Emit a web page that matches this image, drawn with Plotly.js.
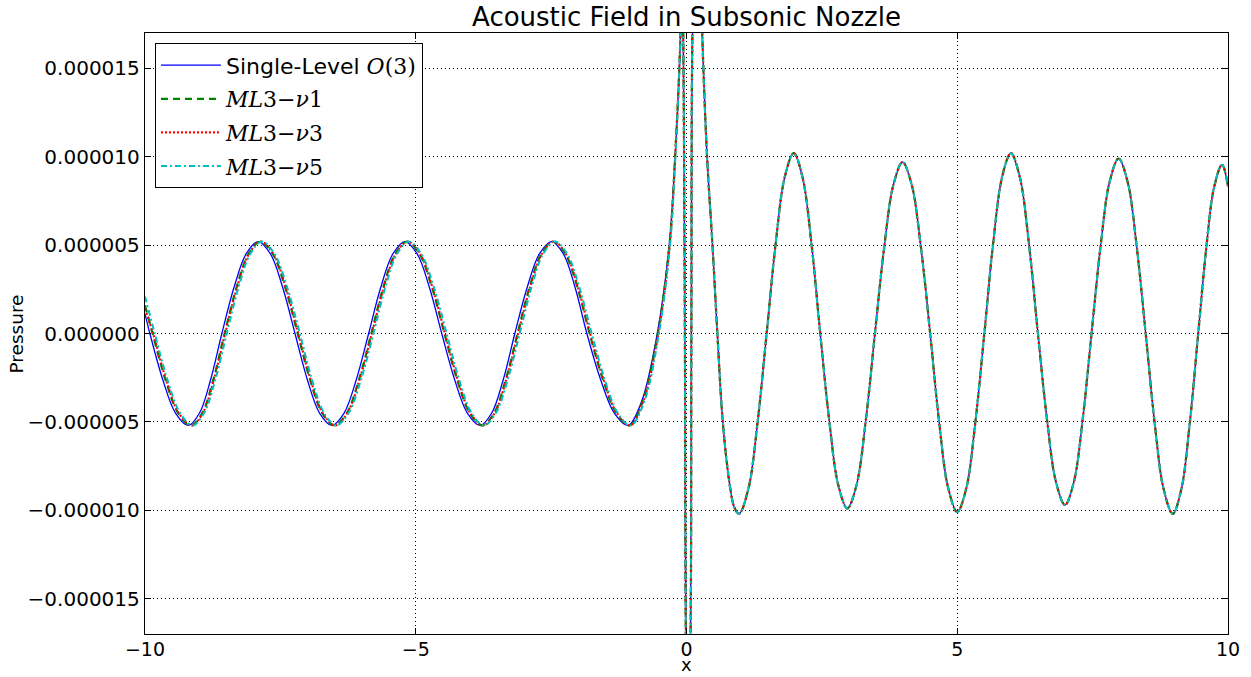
<!DOCTYPE html>
<html>
<head>
<meta charset="utf-8">
<script src="https://cdn.plot.ly/plotly-3.0.1.min.js"></script>
<style>html,body{margin:0;padding:0;background:#fff;}#chart{width:1251px;height:677px;}</style>
</head>
<body>
<div id="chart"></div>
<script>
// Upstream (subsonic) part, one array pair per series
var xLeftSingle = [-10, -9.91, -9.673, -9.437, -9.20, -8.993, -8.787, -8.58, -8.357, -8.133, -7.91, -7.683, -7.457, -7.23,
  -7.003, -6.777, -6.55, -6.323, -6.097, -5.87, -5.647, -5.423, -5.20, -4.973, -4.747, -4.52,
  -4.283, -4.047, -3.81, -3.597, -3.383, -3.17, -2.943, -2.717, -2.49, -2.273, -2.057, -1.84,
  -1.587, -1.333, -1.08, -0.83, -0.54, -0.32, -0.21];
var pLeftSingle = [1.1e-6, 0, -2.6e-6, -4.5e-6, -5.2e-6, -4.5e-6, -2.6e-6, 0, 2.6e-6, 4.5e-6, 5.2e-6, 4.5e-6, 2.6e-6, 0,
  -2.6e-6, -4.5e-6, -5.2e-6, -4.5e-6, -2.6e-6, 0, 2.6e-6, 4.5e-6, 5.2e-6, 4.5e-6, 2.6e-6, 0,
  -2.6e-6, -4.5e-6, -5.2e-6, -4.5e-6, -2.6e-6, 0, 2.6e-6, 4.5e-6, 5.2e-6, 4.5e-6, 2.6e-6, 0,
  -2.6e-6, -4.5e-6, -5.2e-6, -3.85e-6, 0, 5.0e-6, 1.0e-5];

var xLeftNu1 = [-10, -9.86, -9.623, -9.387, -9.15, -8.943, -8.737, -8.53, -8.31, -8.09, -7.87, -7.64, -7.41, -7.18,
  -6.953, -6.727, -6.50, -6.273, -6.047, -5.82, -5.60, -5.38, -5.16, -4.93, -4.70, -4.47,
  -4.237, -4.003, -3.77, -3.553, -3.337, -3.12, -2.90, -2.68, -2.46, -2.237, -2.013, -1.79,
  -1.543, -1.297, -1.05, -0.81, -0.53, -0.315, -0.21];
var pLeftNu1 = [1.6e-6, 0, -2.6e-6, -4.5e-6, -5.2e-6, -4.5e-6, -2.6e-6, 0, 2.6e-6, 4.5e-6, 5.2e-6, 4.5e-6, 2.6e-6, 0,
  -2.6e-6, -4.5e-6, -5.2e-6, -4.5e-6, -2.6e-6, 0, 2.6e-6, 4.5e-6, 5.2e-6, 4.5e-6, 2.6e-6, 0,
  -2.6e-6, -4.5e-6, -5.2e-6, -4.5e-6, -2.6e-6, 0, 2.6e-6, 4.5e-6, 5.2e-6, 4.5e-6, 2.6e-6, 0,
  -2.6e-6, -4.5e-6, -5.2e-6, -3.85e-6, 0, 5.0e-6, 1.0e-5];

var xLeftNu3 = [-10, -9.85, -9.613, -9.377, -9.14, -8.933, -8.727, -8.52, -8.30, -8.08, -7.86, -7.63, -7.40, -7.17,
  -6.943, -6.717, -6.49, -6.263, -6.037, -5.81, -5.59, -5.37, -5.15, -4.92, -4.69, -4.46,
  -4.227, -3.993, -3.76, -3.543, -3.327, -3.11, -2.89, -2.67, -2.45, -2.227, -2.003, -1.78,
  -1.533, -1.287, -1.04, -0.80, -0.52, -0.31, -0.21];
var pLeftNu3 = [1.4e-6, 0, -2.6e-6, -4.5e-6, -5.2e-6, -4.5e-6, -2.6e-6, 0, 2.6e-6, 4.5e-6, 5.2e-6, 4.5e-6, 2.6e-6, 0,
  -2.6e-6, -4.5e-6, -5.2e-6, -4.5e-6, -2.6e-6, 0, 2.6e-6, 4.5e-6, 5.2e-6, 4.5e-6, 2.6e-6, 0,
  -2.6e-6, -4.5e-6, -5.2e-6, -4.5e-6, -2.6e-6, 0, 2.6e-6, 4.5e-6, 5.2e-6, 4.5e-6, 2.6e-6, 0,
  -2.6e-6, -4.5e-6, -5.2e-6, -3.85e-6, 0, 5.0e-6, 1.0e-5];

var xLeftNu5 = [-10, -9.82, -9.587, -9.353, -9.12, -8.91, -8.70, -8.49, -8.273, -8.057, -7.84, -7.607, -7.373, -7.14,
  -6.917, -6.693, -6.47, -6.24, -6.01, -5.78, -5.563, -5.347, -5.13, -4.897, -4.663, -4.43,
  -4.20, -3.97, -3.74, -3.52, -3.30, -3.08, -2.863, -2.647, -2.43, -2.203, -1.977, -1.75,
  -1.51, -1.27, -1.03, -0.78, -0.51, -0.305, -0.205];
var pLeftNu5 = [2.1e-6, 0, -2.6e-6, -4.5e-6, -5.2e-6, -4.5e-6, -2.6e-6, 0, 2.6e-6, 4.5e-6, 5.2e-6, 4.5e-6, 2.6e-6, 0,
  -2.6e-6, -4.5e-6, -5.2e-6, -4.5e-6, -2.6e-6, 0, 2.6e-6, 4.5e-6, 5.2e-6, 4.5e-6, 2.6e-6, 0,
  -2.6e-6, -4.5e-6, -5.2e-6, -4.5e-6, -2.6e-6, 0, 2.6e-6, 4.5e-6, 5.2e-6, 4.5e-6, 2.6e-6, 0,
  -2.6e-6, -4.5e-6, -5.2e-6, -3.85e-6, 0, 5.0e-6, 1.0e-5];

// Spike at the throat and downstream part (all four series overlap here)
var xRight = [-0.11, -0.085, -0.06, -0.03, -0.012, 0.03, 0.075, 0.09, 0.11, 0.20, 0.29, 0.38, 0.48, 0.57, 0.67, 0.80, 0.88, 0.97,
  1.14, 1.31, 1.48, 1.647, 1.813, 1.98, 2.143, 2.307, 2.47, 2.637, 2.803, 2.97,
  3.14, 3.31, 3.48, 3.65, 3.82, 3.99, 4.16, 4.33, 4.50, 4.667, 4.833, 5.00,
  5.167, 5.333, 5.50, 5.663, 5.827, 5.99, 6.157, 6.323, 6.49, 6.657, 6.823, 6.99,
  7.153, 7.317, 7.48, 7.647, 7.813, 7.98, 8.147, 8.313, 8.48, 8.647, 8.813, 8.98,
  9.137, 9.293, 9.45, 9.597, 9.743, 9.89, 10.0];
var pRight = [1.7e-5, 2.3e-5, 1.7e-5, 0, -1.7e-5, -2.4e-5, -1.7e-5, 0, 1.7e-5, 2.8e-5, 1.7e-5, 1.0e-5, 5.0e-6, 0, -5.0e-6, -8.6e-6, -9.8e-6, -1.02e-5,
  -8.83e-6, -5.1e-6, 0, 5.1e-6, 8.83e-6, 1.02e-5, 8.83e-6, 5.1e-6, 0, -4.95e-6, -8.57e-6, -9.9e-6,
  -8.57e-6, -4.95e-6, 0, 4.85e-6, 8.4e-6, 9.7e-6, 8.4e-6, 4.85e-6, 0, -5.05e-6, -8.75e-6, -1.01e-5,
  -8.75e-6, -5.05e-6, 0, 5.1e-6, 8.83e-6, 1.02e-5, 8.83e-6, 5.1e-6, 0, -4.85e-6, -8.4e-6, -9.7e-6,
  -8.4e-6, -4.85e-6, 0, 4.95e-6, 8.57e-6, 9.9e-6, 8.57e-6, 4.95e-6, 0, -5.1e-6, -8.83e-6, -1.02e-5,
  -8.83e-6, -5.1e-6, 0, 4.78e-6, 8.27e-6, 9.55e-6, 8.3e-6];

var seriesNames = ['Single-Level <span style="font-family:\'DejaVu Serif\';font-style:italic">O</span><span style="font-family:\'DejaVu Serif\'">(3)</span>',
  '<span style="font-family:\'DejaVu Serif\'"><i>ML</i>3−<i>ν</i>1</span>',
  '<span style="font-family:\'DejaVu Serif\'"><i>ML</i>3−<i>ν</i>3</span>',
  '<span style="font-family:\'DejaVu Serif\'"><i>ML</i>3−<i>ν</i>5</span>'];
var seriesColors = ['#0000ff', '#008000', '#ff0000', '#00bfbf'];

var yTickVals = [-1.5e-5, -1.0e-5, -0.5e-5, 0, 0.5e-5, 1.0e-5, 1.5e-5];
var yTickText = ['−0.000015', '−0.000010', '−0.000005', '0.000000', '0.000005', '0.000010', '0.000015'];
var xTickVals = [-10, -5, 0, 5, 10];
var xTickText = ['−10', '−5', '0', '5', '10'];

var styles = [
  {width: 1.3, dash: 'solid'},
  {width: 2.2, dash: '7px,5px'},
  {width: 2.2, dash: '2px,2px'},
  {width: 2.0, dash: '6px,3px,2px,3px'}
];
var lefts = [[xLeftSingle, pLeftSingle], [xLeftNu1, pLeftNu1], [xLeftNu3, pLeftNu3], [xLeftNu5, pLeftNu5]];

var traces = lefts.map(function (lp, i) {
  return {
    x: lp[0].concat(xRight),
    y: lp[1].concat(pRight),
    type: 'scatter',
    mode: 'lines',
    name: seriesNames[i],
    legendgroup: 'g' + i,
    line: {color: seriesColors[i], width: styles[i].width, dash: styles[i].dash, shape: 'spline', smoothing: 1}
  };
});

var fam = 'DejaVu Sans, sans-serif';
var layout = {
  width: 1251, height: 677,
  margin: {l: 145, r: 23, t: 33, b: 43, autoexpand: false},
  paper_bgcolor: '#fff', plot_bgcolor: '#fff',
  font: {family: fam, size: 20, color: '#000'},
  title: {text: 'Acoustic Field in Subsonic Nozzle', font: {family: fam, size: 26, color: '#000'}, x: 0.5, xanchor: 'center', y: 0.975, yanchor: 'middle', xref: 'paper'},
  xaxis: {
    range: [-10, 10], tickvals: xTickVals, ticktext: xTickText,
    ticks: 'inside', ticklen: 6, tickcolor: '#000', mirror: 'allticks',
    showline: true, linecolor: '#000', linewidth: 1.2,
    showgrid: true, gridcolor: '#000', gridwidth: 1, griddash: '1px,3px',
    zeroline: false, tickfont: {family: fam, size: 19}, ticklabelstandoff: -2,
    automargin: false
  },
  yaxis: {
    range: [-1.7e-5, 1.7e-5], tickvals: yTickVals, ticktext: yTickText,
    ticks: 'inside', ticklen: 6, tickcolor: '#000', mirror: 'allticks',
    showline: true, linecolor: '#000', linewidth: 1.2,
    showgrid: true, gridcolor: '#000', gridwidth: 1, griddash: '1px,3px',
    zeroline: false, tickfont: {family: fam, size: 20},
    automargin: false
  },
  annotations: [
    {text: 'x', xref: 'paper', yref: 'paper', x: 0.5, y: -0.0712, xanchor: 'center', yanchor: 'bottom',
     showarrow: false, font: {family: fam, size: 18, color: '#000'}},
    {text: 'Pressure', xref: 'paper', yref: 'paper', x: -0.1182, y: 0.5, xanchor: 'center', yanchor: 'middle',
     textangle: -90, showarrow: false, font: {family: fam, size: 18.5, color: '#000'}}
  ],
  showlegend: true,
  legend: {
    x: 0.009, y: 0.983, xanchor: 'left', yanchor: 'top',
    bgcolor: '#fff', bordercolor: '#000', borderwidth: 1.2,
    font: {family: fam, size: 22, color: '#000'},
    traceorder: 'grouped', tracegroupgap: 2, itemwidth: 60
  },
  hovermode: false
};

Plotly.newPlot('chart', traces, layout, {displayModeBar: false, staticPlot: true});
</script>
</body>
</html>
